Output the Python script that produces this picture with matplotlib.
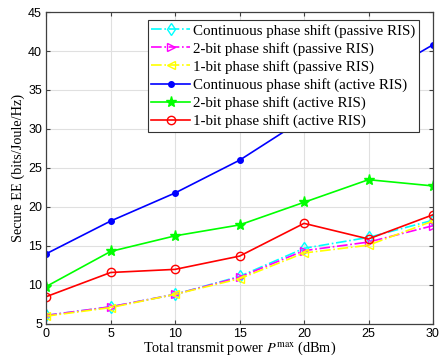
import numpy as np
import matplotlib.pyplot as plt

plt.rcParams['mathtext.fontset'] = 'stix'

power = [0, 5, 10, 15, 20, 25, 30]
cont_passive = [6.1, 7.2, 8.8, 11.1, 14.7, 16.1, 18.3]
bit2_passive = [6.1, 7.2, 8.8, 11.0, 14.4, 15.5, 17.6]
bit1_passive = [6.0, 7.1, 8.8, 10.8, 14.1, 15.1, 18.2]
cont_active = [14.0, 18.2, 21.8, 26.0, 31.3, 36.0, 40.8]
bit2_active = [9.8, 14.3, 16.3, 17.7, 20.6, 23.5, 22.7]
bit1_active = [8.5, 11.6, 12.0, 13.7, 17.9, 15.9, 19.0]

fig = plt.figure(figsize=(4.4, 3.64), dpi=100)
ax = fig.add_axes([0.105, 0.11, 0.879, 0.857])

ax.plot(power, cont_passive, '-.', color='cyan', marker='d', mfc='none', ms=6, lw=1.2,
        label='Continuous phase shift (passive RIS)')
ax.plot(power, bit2_passive, '-.', color='magenta', marker='>', mfc='none', ms=6, lw=1.2,
        label='2-bit phase shift (passive RIS)')
ax.plot(power, bit1_passive, '-.', color='yellow', marker='<', mfc='none', ms=6, lw=1.2,
        label='1-bit phase shift (passive RIS)')
ax.plot(power, cont_active, '-', color='blue', marker='.', ms=8, lw=1.2,
        label='Continuous phase shift (active RIS)')
ax.plot(power, bit2_active, '-', color='#00ff00', marker='*', ms=8, lw=1.2,
        label='2-bit phase shift (active RIS)')
ax.plot(power, bit1_active, '-', color='red', marker='o', mfc='none', ms=6, lw=1.2,
        label='1-bit phase shift (active RIS)')

ax.set_xlim(0, 30)
ax.set_ylim(5, 45)
ax.set_xticks(range(0, 31, 5))
ax.set_yticks(range(5, 46, 5))
ax.tick_params(direction='in', top=True, right=True, labelsize=9, length=3, color='#404040', pad=3)
for lbl in ax.get_xticklabels() + ax.get_yticklabels():
    lbl.set_family('Liberation Sans')
for sp in ax.spines.values():
    sp.set_color('#404040')
    sp.set_linewidth(0.9)
ax.grid(True, color='#e0e0e0', lw=0.8)
ax.set_axisbelow(True)

ax.set_xlabel('Total transmit power $P^{\\max}$ (dBm)', family='Liberation Serif', fontsize=10.3, labelpad=0)
ax.set_ylabel('Secure EE (bits/Joule/Hz)', family='Liberation Serif', fontsize=10.3, labelpad=2)

leg = ax.legend(loc='upper right', bbox_to_anchor=(0.965, 0.975), prop={'family': 'Liberation Serif', 'size': 10.8},
                fancybox=False, edgecolor='#333333', framealpha=1, handlelength=2.6,
                handletextpad=0.2, borderpad=0.25, labelspacing=0.28, borderaxespad=0)
leg.get_frame().set_linewidth(0.8)

plt.savefig('out.png', dpi=100)
